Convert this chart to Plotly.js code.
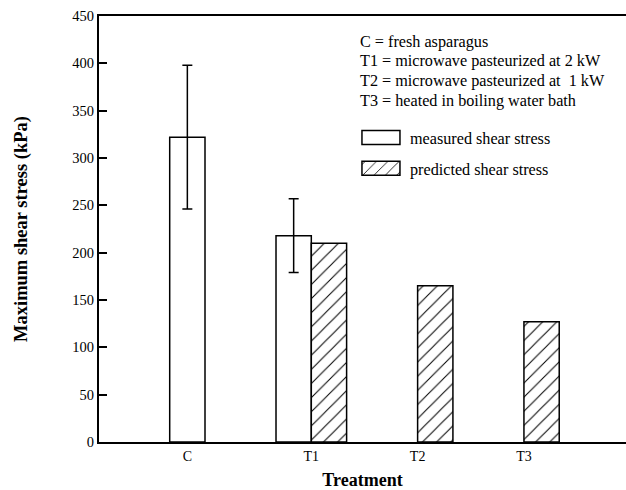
<!DOCTYPE html>
<html>
<head>
<meta charset="utf-8">
<script src="https://cdn.plot.ly/plotly-3.0.1.min.js"></script>
<style>html,body{margin:0;padding:0;background:#fff;}#chart{width:626px;height:490px;}</style>
</head>
<body>
<div id="chart"></div>
<script>
// ---- data ----
const categories = ['C', 'T1', 'T2', 'T3'];
const measured = [322, 218, null, null];
const measuredErr = [76, 39, null, null];
const predicted = [null, 210, 165, 127];
const seriesNames = ['measured shear stress', 'predicted shear stress'];
const definitions = [
  'C = fresh asparagus',
  'T1 = microwave pasteurized at 2 kW',
  'T2 = microwave pasteurized at\u00a0 1 kW',
  'T3 = heated in boiling water bath'
];
const xTitle = 'Treatment';
const yTitle = 'Maximum shear stress (kPa)';

// ---- chart ----
const FONT = 'Liberation Serif, Times New Roman, serif';
const xs = categories.map((_, i) => i);
const bargap = 0.336;
const cOffset = -(1 - bargap) / 4;   // C has only its measured bar; label sits under it
const tickvals = xs.map((v, i) => (measured[i] != null && predicted[i] == null) ? v + cOffset : v);

const traces = [
  {
    type: 'bar', name: seriesNames[0], x: xs, y: measured,
    marker: {color: '#ffffff', line: {color: '#000', width: 1.5}},
    error_y: {type: 'data', array: measuredErr, visible: true, color: '#000', thickness: 1.5, width: 5},
    legend: 'legend'
  },
  {
    type: 'bar', name: seriesNames[1], x: xs, y: predicted,
    marker: {color: '#ffffff', line: {color: '#000', width: 1.5},
      pattern: {shape: '/', fgcolor: '#000', bgcolor: '#fff', size: 10, solidity: 0.1}},
    legend: 'legend2'
  }
];

const annotations = definitions.map((t, i) => ({
  text: t, xref: 'paper', yref: 'paper',
  x: 0.4915, y: 0.9397 - i * 0.0463, xanchor: 'left', yanchor: 'middle',
  showarrow: false, font: {family: FONT, size: 16.2, color: '#000'}
}));

const legendBase = {
  xref: 'paper', yref: 'paper', x: 0.48, xanchor: 'left', yanchor: 'middle',
  bgcolor: 'rgba(0,0,0,0)', borderwidth: 0, itemwidth: 48,
  font: {family: FONT, size: 16.2, color: '#000'}
};

const layout = {
  width: 626, height: 490,
  margin: {l: 99, r: 0, t: 16, b: 48},
  paper_bgcolor: '#fff', plot_bgcolor: '#fff',
  barmode: 'group', bargap: bargap, bargroupgap: 0,
  showlegend: true,
  legend: Object.assign({}, legendBase, {y: 0.7136}),
  legend2: Object.assign({}, legendBase, {y: 0.6416}),
  xaxis: {
    range: [-0.997, 3.96], tickvals: tickvals, ticktext: categories,
    ticks: '', showline: true, linewidth: 2, linecolor: '#000', mirror: true,
    showgrid: false, zeroline: false,
    tickfont: {family: FONT, size: 14, color: '#000'},
    title: {text: xTitle, standoff: 12, font: {family: FONT, size: 18, color: '#000', weight: 'bold'}}
  },
  yaxis: {
    range: [0, 450], dtick: 50, ticks: 'inside', ticklen: 8, tickwidth: 2, tickcolor: '#000',
    showline: true, linewidth: 2, linecolor: '#000', showgrid: false, zeroline: false,
    tickfont: {family: FONT, size: 14.5, color: '#000'},
    title: {text: yTitle, standoff: 40, font: {family: FONT, size: 18.5, color: '#000', weight: 'bold'}}
  },
  annotations: annotations
};

Plotly.newPlot('chart', traces, layout, {displayModeBar: false, staticPlot: true}).then(() => {
  document.querySelectorAll('.legendpoints path').forEach(p => {
    p.setAttribute('d', 'M19,7H-19V-7H19Z');
  });
});
</script>
</body>
</html>
